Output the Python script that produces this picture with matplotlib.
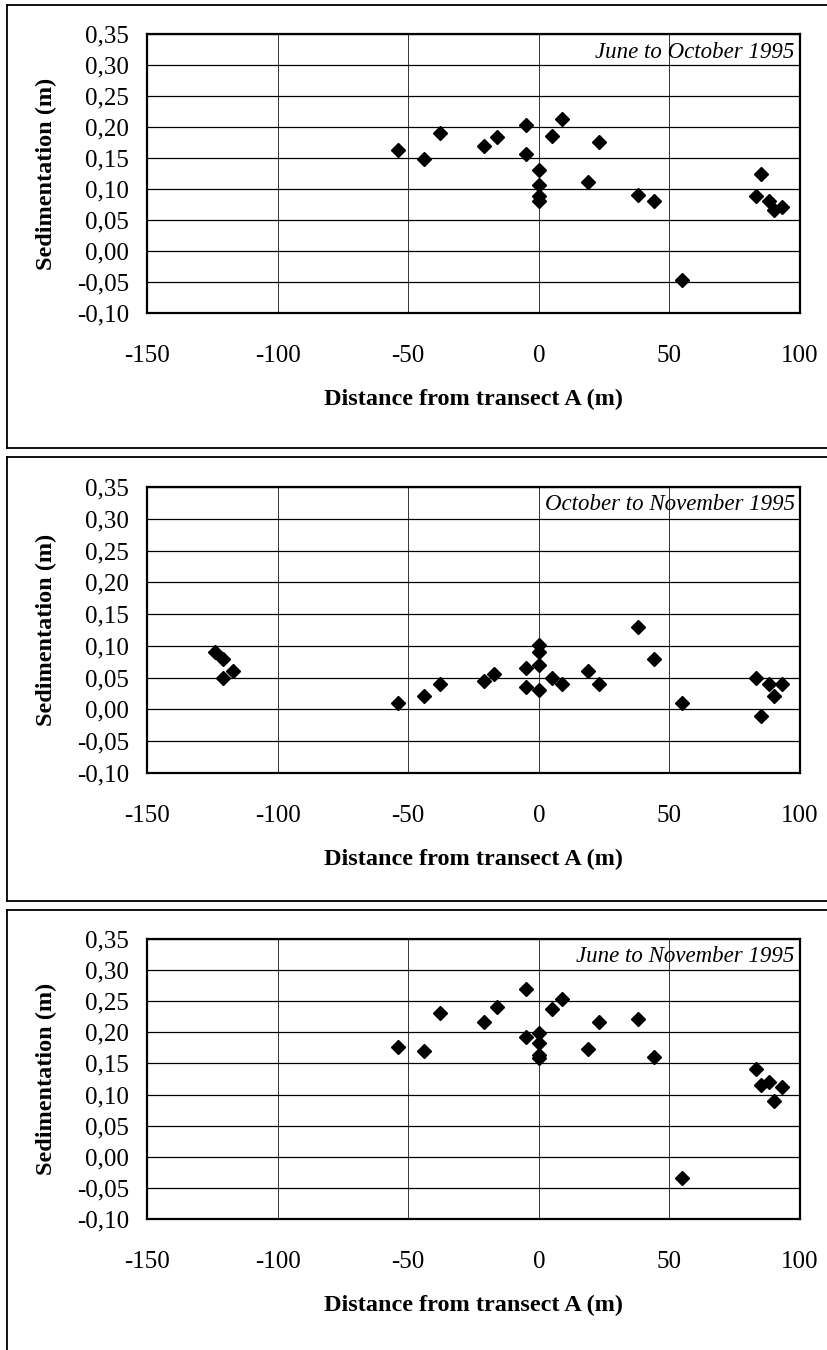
import matplotlib
matplotlib.use("Agg")
import matplotlib.pyplot as plt
from matplotlib.lines import Line2D

# ---------------- data ----------------
titles = ["June to October 1995", "October to November 1995", "June to November 1995"]

x_jun_oct = [-54, -44, -38, -21, -16, -5, -5, 0, 0, 0, 0, 5, 9, 19, 23, 38, 44, 55, 83, 85, 88, 90, 93]
y_jun_oct = [0.163, 0.149, 0.190, 0.170, 0.184, 0.203, 0.156, 0.131, 0.107, 0.089, 0.081,
             0.186, 0.213, 0.111, 0.176, 0.090, 0.080, -0.047, 0.088, 0.125, 0.080, 0.066, 0.071]

x_oct_nov = [-124, -121, -121, -117, -54, -44, -38, -21, -17, -5, -5, 0, 0, 0, 0, 5, 9,
             19, 23, 38, 44, 55, 83, 85, 88, 90, 93]
y_oct_nov = [0.090, 0.079, 0.049, 0.060, 0.010, 0.021, 0.040, 0.045, 0.055, 0.065, 0.036,
             0.102, 0.090, 0.070, 0.030, 0.050, 0.040, 0.060, 0.040, 0.129, 0.079, 0.010,
             0.050, -0.010, 0.040, 0.021, 0.040]

x_jun_nov = [-54, -44, -38, -21, -16, -5, -5, 0, 0, 0, 0, 5, 9, 19, 23, 38, 44, 55, 83, 85, 88, 90, 93]
y_jun_nov = [0.177, 0.170, 0.231, 0.216, 0.241, 0.269, 0.193, 0.199, 0.183, 0.164, 0.159,
             0.237, 0.253, 0.173, 0.217, 0.222, 0.161, -0.034, 0.141, 0.116, 0.120, 0.090, 0.112]

x_ticks = [-150, -100, -50, 0, 50, 100]
x_tick_labels = ["-150", "-100", "-50", "0", "50", "100"]
y_ticks = [-0.10, -0.05, 0.00, 0.05, 0.10, 0.15, 0.20, 0.25, 0.30, 0.35]
y_tick_labels = ["-0,10", "-0,05", "0,00", "0,05", "0,10", "0,15", "0,20", "0,25", "0,30", "0,35"]

x_label = "Distance from transect A (m)"
y_label = "Sedimentation (m)"

series = [(x_jun_oct, y_jun_oct), (x_oct_nov, y_oct_nov), (x_jun_nov, y_jun_nov)]

# ---------------- layout ----------------
W, H = 827, 1350
plt.rcParams['font.family'] = ['Liberation Serif', 'DejaVu Serif']
fig = plt.figure(figsize=(W / 100, H / 100), dpi=100)

# axes pixel extents (top, bottom) in image coordinates
ax_px = [(34, 313), (487, 773), (939, 1219)]
# panel border extents (top, bottom) in image coordinates
panel_px = [(5, 448), (457, 901), (910, 1360)]
left_px, right_px = 147, 800

def fx(px):
    return px / W

def fy(py):
    return 1 - py / H

for i, ((top, bot), (xs, ys), title) in enumerate(zip(ax_px, series, titles)):
    ax = fig.add_axes([fx(left_px), fy(bot), fx(right_px - left_px), (bot - top) / H])
    ax.set_xlim(-150, 100)
    ax.set_ylim(-0.10, 0.35)
    ax.set_xticks(x_ticks)
    ax.set_xticklabels(x_tick_labels)
    ax.set_yticks(y_ticks)
    ax.set_yticklabels(y_tick_labels)
    ax.tick_params(axis='both', length=0, labelsize=18)
    ax.tick_params(axis='x', pad=23)
    ax.tick_params(axis='y', pad=13)
    ax.yaxis.grid(True, color='black', linewidth=0.9)
    ax.xaxis.grid(True, color='#333333', linewidth=0.7)
    ax.set_axisbelow(True)
    for s in ax.spines.values():
        s.set_linewidth(1.6)
        s.set_color('black')
    ax.plot(xs, ys, linestyle='none', marker='D', color='black', markersize=7.5, zorder=3)
    ax.text(0.992, 1 - 18 / (bot - top), title, transform=ax.transAxes, ha='right',
            va='center', fontsize=16.5, style='italic')
    # axis labels
    fig.text(fx((left_px + right_px) / 2), fy(bot + 86), x_label, ha='center', va='center',
             fontsize=17.5, fontweight='bold')
    fig.text(fx(46), fy((top + bot) / 2), y_label, ha='center', va='center',
             rotation=90, fontsize=17.5, fontweight='bold')

# panel borders (right side runs off the image)
for (pt, pb) in panel_px:
    fig.add_artist(Line2D([fx(7), 1.02], [fy(pt), fy(pt)], color='black', linewidth=1.3))
    fig.add_artist(Line2D([fx(7), 1.02], [fy(pb), fy(pb)], color='black', linewidth=1.3))
    fig.add_artist(Line2D([fx(7), fx(7)], [fy(pt), fy(pb)], color='black', linewidth=1.3))

fig.savefig("out.png", dpi=100)
